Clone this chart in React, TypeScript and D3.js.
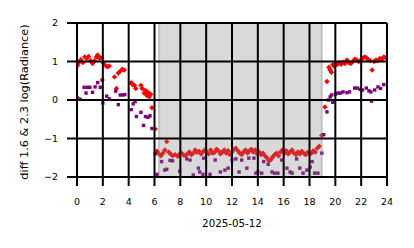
import React from "react";
import * as d3 from "d3";

const xTicks = [0, 2, 4, 6, 8, 10, 12, 14, 16, 18, 20, 22, 24];
const yTicks = [-2, -1, 0, 1, 2];
const xLabel = "2025-05-12";
const yLabel = "diff 1.6 & 2.3 log(Radiance)";
const shadeSpan: [number, number] = [6.28, 19.02];

// red diamonds: [hour, value]
const redPoints: [number, number][] = [
  [0.05, 0.9], [0.15, 0.98], [0.3, 1.05], [0.45, 0.97], [0.6, 1.12], [0.75, 1.08], [0.9, 1.13],
  [1.05, 1.02], [1.2, 0.95], [1.35, 1.02], [1.5, 1.12], [1.6, 1.17], [1.75, 1.08], [1.85, 1.1],
  [1.95, 0.52], [2.05, 0.95], [2.2, 0.9], [2.35, 0.86], [2.5, 0.88], [2.9, 0.6], [3.05, 0.3],
  [3.2, 0.7], [3.35, 0.75], [3.5, 0.8], [3.65, 0.78], [4.2, 0.45], [4.3, 0.4], [4.45, 0.38],
  [4.55, 0.3], [4.95, 0.38], [5.05, 0.3], [5.2, 0.18], [5.3, 0.25], [5.4, 0.12], [5.5, 0.2],
  [5.6, 0.08], [5.7, 0.15], [5.8, -0.2], [6.05, -0.75], [6.2, -1.33], [6.35, -1.4], [6.5, -1.45],
  [6.65, -1.38], [6.8, -1.3], [6.95, -1.08], [7.1, -1.35], [7.25, -1.4], [7.4, -1.45], [7.6, -1.42],
  [7.8, -1.46], [7.95, -1.4], [8.1, -1.38], [8.25, -1.43], [8.4, -1.45], [8.55, -1.4], [8.7, -1.35],
  [8.85, -1.42], [9.0, -1.38], [9.15, -1.3], [9.3, -1.36], [9.45, -1.33], [9.6, -1.4], [9.75, -1.35],
  [9.9, -1.3], [10.05, -1.35], [10.2, -1.4], [10.35, -1.3], [10.5, -1.38], [10.65, -1.36], [10.8, -1.28],
  [10.95, -1.32], [11.1, -1.4], [11.25, -1.35], [11.4, -1.3], [11.55, -1.38], [11.7, -1.32], [11.85, -1.42],
  [12.0, -1.35], [12.15, -1.28], [12.3, -1.25], [12.45, -1.32], [12.6, -1.38], [12.75, -1.42], [12.9, -1.35],
  [13.05, -1.3], [13.2, -1.38], [13.35, -1.32], [13.5, -1.28], [13.65, -1.35], [13.8, -1.3], [13.95, -1.4],
  [14.1, -1.35], [14.25, -1.42], [14.4, -1.38], [14.55, -1.45], [14.7, -1.5], [14.85, -1.58], [15.0, -1.55],
  [15.15, -1.48], [15.3, -1.42], [15.45, -1.38], [15.6, -1.45], [15.75, -1.35], [15.9, -1.3], [16.05, -1.38],
  [16.2, -1.32], [16.35, -1.4], [16.5, -1.35], [16.65, -1.3], [16.8, -1.38], [16.95, -1.42], [17.1, -1.35],
  [17.25, -1.4], [17.4, -1.33], [17.55, -1.38], [17.7, -1.42], [17.85, -1.36], [18.0, -1.4], [18.15, -1.38],
  [18.3, -1.32], [18.45, -1.35], [18.6, -1.25], [18.75, -1.2], [18.95, -0.92], [19.2, -0.18], [19.35, 0.48],
  [19.5, 0.85], [19.6, 0.78], [19.7, 0.72], [19.8, 0.92], [19.9, 0.88], [20.0, 0.95], [20.15, 0.92],
  [20.3, 0.97], [20.45, 0.93], [20.6, 0.98], [20.75, 0.95], [20.9, 1.04], [21.05, 0.97], [21.2, 0.95],
  [21.35, 1.0], [21.5, 1.06], [21.65, 1.04], [21.8, 1.0], [21.95, 1.03], [22.1, 1.08], [22.25, 1.12],
  [22.4, 1.1], [22.55, 1.05], [22.7, 1.02], [22.85, 0.78], [23.0, 1.0], [23.15, 1.04], [23.3, 1.02],
  [23.45, 1.08], [23.6, 1.06], [23.75, 1.12], [23.9, 1.1],
];

// purple squares: [hour, value]
const purplePoints: [number, number][] = [
  [0.05, 0.05], [0.25, 0.02], [0.55, 0.33], [0.7, 0.18], [0.8, 0.33], [1.0, 0.33], [1.2, 0.2],
  [1.4, 0.34], [1.6, 0.45], [1.8, 0.33], [2.0, -0.08], [2.3, 0.1], [2.5, 0.03], [3.0, 0.23],
  [3.2, -0.12], [3.35, 0.13], [3.55, 0.13], [3.7, 0.14], [4.2, -0.25], [4.35, -0.1], [4.5, -0.04],
  [4.6, -0.43], [4.95, -0.32], [5.15, -0.66], [5.3, -0.43], [5.5, -0.45], [5.65, -0.41], [5.8, -0.74],
  [6.05, -1.4], [6.2, -1.93], [6.55, -1.6], [6.8, -1.82], [6.95, -1.8], [7.2, -1.57], [7.4, -1.58],
  [7.95, -1.85], [8.5, -1.53], [8.75, -1.56], [9.0, -1.95], [9.4, -1.77], [9.5, -1.87], [9.75, -1.93],
  [9.8, -1.51], [10.3, -1.93], [10.7, -1.56], [11.1, -1.87], [11.45, -1.82], [11.7, -1.77], [12.0, -1.56],
  [12.3, -1.53], [12.55, -1.87], [12.75, -1.56], [13.15, -1.77], [13.3, -1.51], [13.7, -1.51], [13.85, -1.9],
  [14.0, -1.87], [14.3, -1.9], [14.45, -1.6], [14.8, -1.67], [15.1, -1.87], [15.3, -1.9], [15.55, -1.9],
  [15.85, -1.56], [16.25, -1.77], [16.5, -1.87], [16.65, -1.9], [17.0, -1.53], [17.25, -1.77], [17.5, -1.9],
  [17.8, -1.82], [18.05, -1.74], [18.2, -1.6], [18.4, -1.9], [18.65, -1.9], [18.95, -1.38], [19.1, -0.9],
  [19.35, -0.31], [19.45, 0.0], [19.6, 0.08], [19.7, 0.13], [19.8, -0.06], [20.0, 0.15], [20.2, 0.18],
  [20.4, 0.18], [20.6, 0.21], [20.9, 0.19], [21.1, 0.21], [21.5, 0.31], [21.7, 0.31], [21.9, 0.28],
  [22.1, 0.26], [22.4, 0.31], [22.6, 0.24], [22.75, 0.21], [22.8, -0.03], [23.05, 0.26], [23.3, 0.34],
  [23.5, 0.3], [23.75, 0.4],
];

const W = 414;
const H = 248;
const left = 77, right = 387, top = 23, bottom = 177;
const FONT = "DejaVu Sans, sans-serif";

export default function App() {
  const x = d3.scaleLinear().domain([0, 24]).range([left, right]);
  const y = d3.scaleLinear().domain([-2, 2]).range([bottom, top]);
  const r = 2.7;
  const sq = 3.4;
  const fmt = (v: number) => (v < 0 ? "\u2212" + Math.abs(v) : String(v));

  return (
    <svg
      width={W}
      height={H}
      style={{ position: "absolute", left: 0, top: 0, background: "#fff" }}
      fontFamily={FONT}
    >
      <defs>
        <clipPath id="plotclip">
          <rect x={left} y={top} width={right - left} height={bottom - top} />
        </clipPath>
      </defs>
      <g clipPath="url(#plotclip)">
        {redPoints.map(([h, v], i) => {
          const cx = x(h), cy = y(v);
          return (
            <path
              key={"r" + i}
              d={`M${cx},${cy - r}L${cx + r},${cy}L${cx},${cy + r}L${cx - r},${cy}Z`}
              fill="#ff0000"
            />
          );
        })}
        {purplePoints.map(([h, v], i) => (
          <rect
            key={"p" + i}
            x={x(h) - sq / 2}
            y={y(v) - sq / 2}
            width={sq}
            height={sq}
            fill="#800080"
          />
        ))}
      </g>
      <rect
        x={x(shadeSpan[0])}
        y={top}
        width={x(shadeSpan[1]) - x(shadeSpan[0])}
        height={bottom - top}
        fill="#808080"
        fillOpacity={0.3}
      />
      <line x1={x(shadeSpan[0]) + 1} x2={x(shadeSpan[0]) + 1} y1={top} y2={bottom} stroke="#808080" strokeOpacity={0.25} strokeWidth={2} />
      <line x1={x(shadeSpan[1]) - 1} x2={x(shadeSpan[1]) - 1} y1={top} y2={bottom} stroke="#808080" strokeOpacity={0.25} strokeWidth={2} />
      {xTicks.map((t) => (
        <g key={"xt" + t}>
          <line x1={x(t)} x2={x(t)} y1={top} y2={bottom + 9} stroke="#000" strokeWidth={2} />
          <text x={x(t)} y={205} fontSize={9.5} textAnchor="middle" fill="#000">
            {fmt(t)}
          </text>
        </g>
      ))}
      {yTicks.map((t) => (
        <g key={"yt" + t}>
          <line x1={left - 10} x2={right} y1={y(t)} y2={y(t)} stroke="#000" strokeWidth={2} />
          <text x={58} y={y(t)} dy="0.36em" fontSize={9.5} textAnchor="end" fill="#000">
            {fmt(t)}
          </text>
        </g>
      ))}
      <text x={(left + right) / 2} y={227} fontSize={10.3} textAnchor="middle" fill="#000">
        {xLabel}
      </text>
      <text
        transform={`translate(28, ${(top + bottom) / 2 + 2}) rotate(-90)`}
        fontSize={11.3}
        textAnchor="middle"
        fill="#000"
      >
        {yLabel}
      </text>
    </svg>
  );
}
